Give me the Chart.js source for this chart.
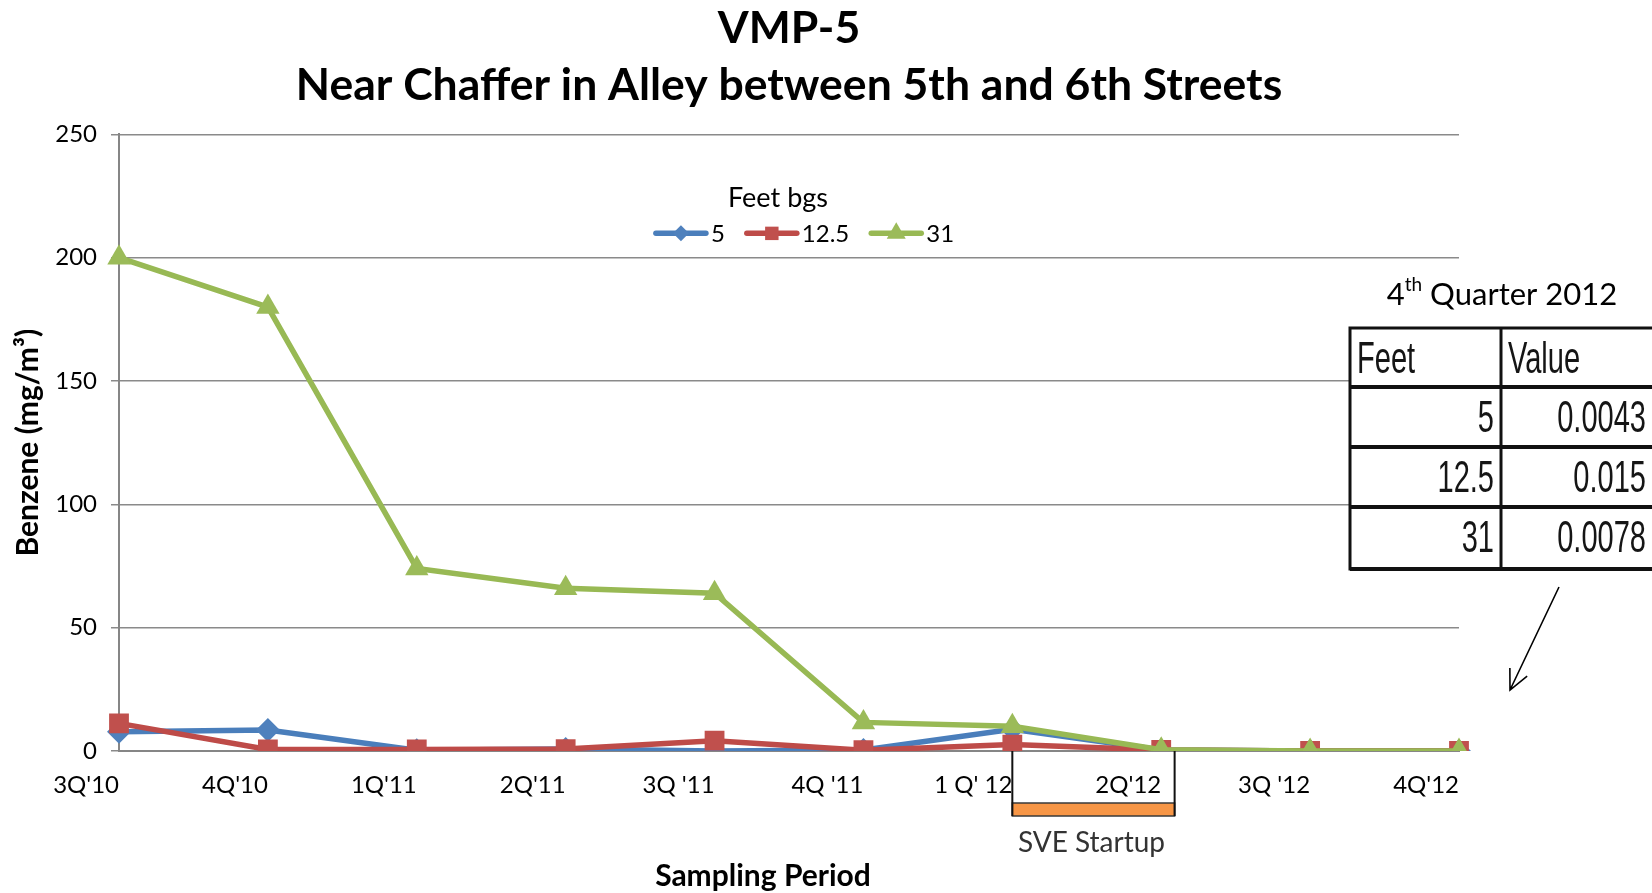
<!DOCTYPE html>
<html><head><meta charset="utf-8">
<script src="https://cdn.jsdelivr.net/npm/chart.js@4.4.1/dist/chart.umd.min.js"></script>
<style>html,body{margin:0;padding:0;background:#fff;overflow:hidden}#wrap{width:1652px;height:893px}</style>
</head><body><div id="wrap"><canvas id="c" width="1652" height="893"></canvas></div>
<script>
// ---- data ----
const titleLines = ['VMP-5', 'Near Chaffer in Alley between 5th and 6th Streets'];
const categories = ["3Q'10", "4Q'10", "1Q'11", "2Q'11", "3Q '11", "4Q '11", "1 Q' 12", "2Q'12", "3Q '12", "4Q'12"];
const seriesNames = ['5', '12.5', '31'];
const feet5    = [7.8, 8.5, 0.3, 0.8, 0, 0.4, 8.8, 0.4, 0.004, 0.0043];
const feet12_5 = [11.2, 0.6, 0.6, 0.8, 4.2, 0.3, 2.6, 0.4, 0.01, 0.015];
const feet31   = [200, 180, 74, 66, 64, 11.6, 10, 0.5, 0.01, 0.0078];
const yTicks = [0, 50, 100, 150, 200, 250];
const legendTitle = 'Feet bgs';
const xTitle = 'Sampling Period';
const yTitle = 'Benzene (mg/m³)';
const tableTitle = ['4', 'th', ' Quarter 2012'];
const tableHeader = ['Feet', 'Value'];
const tableFeet = ['5', '12.5', '31'];
const tableValues = ['0.0043', '0.015', '0.0078'];
const sveLabel = 'SVE Startup';
const sveStart = 6, sveEnd = 7.09;

// ---- styles ----
const FONT = 'Lato, "Open Sans", sans-serif';
const colors = [
  {line: '#4A7EBB', fill: '#4F81BD', style: 'rectRot', r: 12, lr: 8},
  {line: '#BE4B48', fill: '#C0504D', style: 'rect', r: 14, lr: 9.5},
  {line: '#98B954', fill: '#9BBB59', style: 'triangle', r: 13.5, lr: 11}
];
const seriesData = [feet5, feet12_5, feet31];

function drawMarker(ctx, style, cx, cy, r, color) {
  ctx.beginPath();
  if (style === 'rectRot') {
    ctx.moveTo(cx - r, cy); ctx.lineTo(cx, cy - r); ctx.lineTo(cx + r, cy); ctx.lineTo(cx, cy + r);
  } else if (style === 'rect') {
    const s = r * Math.SQRT1_2; ctx.rect(cx - s, cy - s, 2 * s, 2 * s);
  } else {
    ctx.moveTo(cx, cy - r);
    ctx.lineTo(cx + r * Math.sin(2 * Math.PI / 3), cy - r * Math.cos(2 * Math.PI / 3));
    ctx.lineTo(cx + r * Math.sin(4 * Math.PI / 3), cy - r * Math.cos(4 * Math.PI / 3));
  }
  ctx.closePath();
  ctx.fillStyle = color; ctx.fill();
}

const overlay = {
  id: 'overlay',
  afterDraw(chart) {
    const {ctx, chartArea, scales: {x, y}} = chart;
    ctx.save();
    // legend
    const cx = (chartArea.left + chartArea.right) / 2;
    ctx.fillStyle = '#000';
    ctx.font = '27px ' + FONT; ctx.textAlign = 'center'; ctx.textBaseline = 'middle';
    ctx.fillText(legendTitle, cx - 11, chartArea.top + 64);
    ctx.font = '24px ' + FONT;
    const iconW = 54, gap = 3, sep = 20;
    const widths = chart.data.datasets.map(d => iconW + gap + ctx.measureText(d.label).width);
    const total = widths.reduce((a, b) => a + b, 0) + sep * (widths.length - 1);
    let lx = cx + 15 - total / 2;
    const ly = chartArea.top + 99;
    chart.data.datasets.forEach((d, i) => {
      const c = colors[i];
      ctx.strokeStyle = c.line; ctx.lineWidth = 5.5; ctx.lineCap = 'round';
      ctx.beginPath(); ctx.moveTo(lx + 2, ly); ctx.lineTo(lx + iconW - 2, ly); ctx.stroke();
      drawMarker(ctx, c.style, lx + iconW / 2, ly, c.lr, c.fill);
      ctx.fillStyle = '#000'; ctx.textAlign = 'left';
      ctx.fillText(d.label, lx + iconW + gap, ly + 1);
      lx += widths[i] + sep;
    });

    // x axis title
    ctx.fillStyle = '#000'; ctx.font = 'bold 30px ' + FONT; ctx.textAlign = 'center';
    ctx.fillText(xTitle, cx - 26, 876);

    // SVE bracket
    const x1 = x.getPixelForValue(sveStart), x2 = x.getPixelForValue(sveEnd), y0 = y.getPixelForValue(0);
    ctx.fillStyle = '#F79646'; ctx.fillRect(x1, y0 + 52, x2 - x1, 13);
    ctx.strokeStyle = '#3a3a3a'; ctx.lineWidth = 1.5; ctx.strokeRect(x1, y0 + 52, x2 - x1, 13);
    ctx.strokeStyle = '#111'; ctx.lineWidth = 2; ctx.lineCap = 'butt';
    ctx.beginPath(); ctx.moveTo(x1, y0); ctx.lineTo(x1, y0 + 65); ctx.moveTo(x2, y0); ctx.lineTo(x2, y0 + 65); ctx.stroke();
    ctx.fillStyle = '#333'; ctx.font = '28px ' + FONT; ctx.textAlign = 'center'; ctx.textBaseline = 'middle';
    ctx.fillText(sveLabel, (x1 + x2) / 2 - 2, y0 + 92);

    // table title
    ctx.fillStyle = '#000';
    ctx.font = '31px ' + FONT;
    const w1 = ctx.measureText(tableTitle[0]).width, w3 = ctx.measureText(tableTitle[2]).width;
    ctx.font = '19px ' + FONT;
    const w2 = ctx.measureText(tableTitle[1]).width;
    let tx = 1502 - (w1 + w2 + w3) / 2; const ty = 295;
    ctx.textAlign = 'left';
    ctx.font = '31px ' + FONT; ctx.fillText(tableTitle[0], tx, ty); tx += w1;
    ctx.font = '19px ' + FONT; ctx.fillText(tableTitle[1], tx, ty - 10); tx += w2;
    ctx.font = '31px ' + FONT; ctx.fillText(tableTitle[2], tx, ty);

    // table
    const T = {left: 1350, top: 328, col: 1501, rows: [387, 447, 507], bottom: 569, right: 1665};
    ctx.fillStyle = '#fff'; ctx.fillRect(T.left, T.top, T.right - T.left, T.bottom - T.top);
    ctx.strokeStyle = '#111'; ctx.lineWidth = 3;
    ctx.strokeRect(T.left, T.top, T.right - T.left, T.bottom - T.top);
    ctx.lineWidth = 4;
    ctx.beginPath();
    T.rows.forEach(r => { ctx.moveTo(T.left, r); ctx.lineTo(T.right, r); });
    ctx.moveTo(T.left, T.bottom); ctx.lineTo(T.right, T.bottom);
    ctx.stroke();
    ctx.lineWidth = 3;
    ctx.beginPath(); ctx.moveTo(T.col, T.top); ctx.lineTo(T.col, T.bottom); ctx.stroke();
    function narrow(str, px, py, align) {
      ctx.save(); ctx.translate(px, py); ctx.scale(0.66, 1);
      ctx.textAlign = align; ctx.textBaseline = 'middle'; ctx.fillText(str, 0, 0); ctx.restore();
    }
    ctx.fillStyle = '#151515';
    ctx.font = '44px "Liberation Sans", Arial, sans-serif';
    narrow(tableHeader[0], 1357, 361, 'left');
    narrow(tableHeader[1], 1508, 361, 'left');
    const centers = [420, 480, 540];
    tableFeet.forEach((f, i) => narrow(f, 1494, centers[i], 'right'));
    tableValues.forEach((v, i) => narrow(v, 1646, centers[i], 'right'));

    // arrow
    const ax0 = 1559, ay0 = 587, ax1 = 1510, ay1 = 690;
    const ang = Math.atan2(ay1 - ay0, ax1 - ax0);
    ctx.strokeStyle = '#000'; ctx.lineWidth = 1.6;
    ctx.beginPath(); ctx.moveTo(ax0, ay0); ctx.lineTo(ax1, ay1);
    ctx.moveTo(ax1 - 22 * Math.cos(ang - 0.45), ay1 - 22 * Math.sin(ang - 0.45)); ctx.lineTo(ax1, ay1);
    ctx.lineTo(ax1 - 22 * Math.cos(ang + 0.45), ay1 - 22 * Math.sin(ang + 0.45));
    ctx.stroke();
    ctx.restore();
  }
};

const datasets = seriesNames.map((name, i) => ({
  label: name,
  data: seriesData[i],
  borderColor: colors[i].line,
  backgroundColor: colors[i].fill,
  pointBackgroundColor: colors[i].fill,
  pointBorderColor: colors[i].fill,
  pointBorderWidth: 0,
  pointStyle: colors[i].style,
  pointRadius: colors[i].r,
  borderWidth: 5.5,
  tension: 0,
  order: 2 - i
}));

new Chart(document.getElementById('c'), {
  type: 'line',
  data: {labels: categories, datasets},
  options: {
    responsive: false, animation: false, devicePixelRatio: 1,
    layout: {padding: {left: 0, right: 193, top: 0, bottom: 0}},
    plugins: {
      legend: {display: false},
      tooltip: {enabled: false},
      title: {display: true, fullSize: false, text: titleLines, color: '#000',
        font: {family: FONT, size: 44.5, weight: 'bold', lineHeight: 1.285},
        padding: {top: 0, bottom: 20}}
    },
    scales: {
      x: {
        type: 'category', offset: false,
        grid: {display: false, drawTicks: false},
        border: {display: true, color: '#868686', width: 2},
        ticks: {align: 'end', padding: 20, maxRotation: 0, autoSkip: false, color: '#000', font: {family: FONT, size: 24}},
        title: {display: false},
        afterFit(s) { s.height = 142; }
      },
      y: {
        min: 0, max: 250,
        afterBuildTicks(s) { s.ticks = yTicks.map(v => ({value: v})); },
        grid: {color: '#8a8a8a', lineWidth: 1.5, tickLength: 8, drawTicks: true},
        border: {display: true, color: '#868686', width: 2},
        ticks: {padding: 14, color: '#000', font: {family: FONT, size: 24}},
        title: {display: true, text: yTitle, color: '#000', font: {family: FONT, size: 30, weight: 'bold'}, padding: {top: 10, bottom: 0}},
        afterFit(s) { s.width = 119; }
      }
    }
  },
  plugins: [overlay]
});
</script></body></html>
